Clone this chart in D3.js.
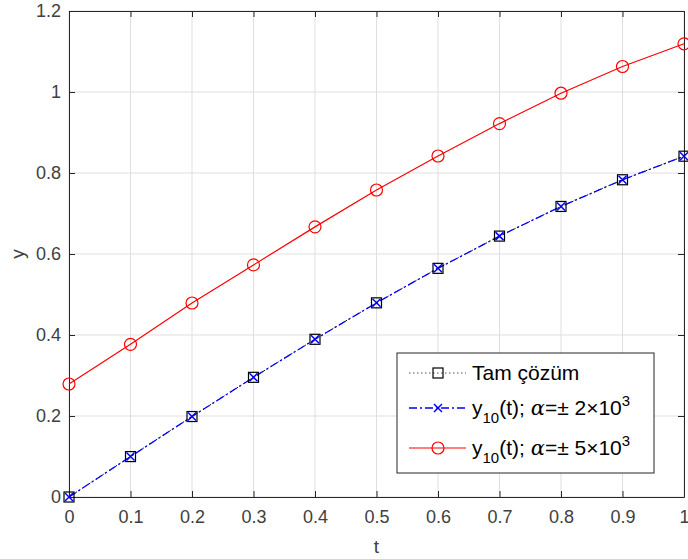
<!DOCTYPE html>
<html>
<head>
<meta charset="utf-8">
<script src="https://cdn.jsdelivr.net/npm/d3@7"></script>
<style>
  body { margin: 0; background: #fff; }
  svg { font-family: "Liberation Sans", Arial, sans-serif; }
</style>
</head>
<body>
<svg id="chart" width="688" height="559"></svg>
<script>
// data
const tValues = [0, 0.1, 0.2, 0.3, 0.4, 0.5, 0.6, 0.7, 0.8, 0.9, 1];
const exactValues = [0, 0.0998, 0.1987, 0.2955, 0.3894, 0.4794, 0.5646, 0.6442, 0.7174, 0.7833, 0.8415];
const y10Alpha2 = [0, 0.0998, 0.1987, 0.2955, 0.3894, 0.4794, 0.5646, 0.6442, 0.7174, 0.7833, 0.8415];
const y10Alpha5 = [0.279, 0.377, 0.479, 0.573, 0.667, 0.758, 0.842, 0.922, 0.997, 1.063, 1.119];
const xTicks = [0, 0.1, 0.2, 0.3, 0.4, 0.5, 0.6, 0.7, 0.8, 0.9, 1];
const yTicks = [0, 0.2, 0.4, 0.6, 0.8, 1, 1.2];

const svg = d3.select('#chart');
const margin = { top: 11, right: 4, bottom: 62, left: 69 },
      width = +svg.attr('width') - margin.left - margin.right,
      height = +svg.attr('height') - margin.top - margin.bottom;

const g = svg.append('g').attr('transform', `translate(${margin.left},${margin.top})`);

const x = d3.scaleLinear().domain([0, 1]).range([0, width]);
const y = d3.scaleLinear().domain([0, 1.2]).range([height, 0]);

const axisColor = '#262626';
const labelColor = '#404040';
const fmt = d => d3.format('')(+d.toFixed(1));

// Grid
g.append('g').selectAll('line').data(xTicks).enter().append('line')
    .attr('x1', d => x(d)).attr('x2', d => x(d)).attr('y1', 0).attr('y2', height)
    .attr('stroke', '#dfdfdf').attr('stroke-width', 1);
g.append('g').selectAll('line').data(yTicks).enter().append('line')
    .attr('y1', d => y(d)).attr('y2', d => y(d)).attr('x1', 0).attr('x2', width)
    .attr('stroke', '#dfdfdf').attr('stroke-width', 1);

// Axes (ticks inside, box all round)
function styleAxis(sel) {
    sel.select('.domain').attr('stroke', axisColor);
    sel.selectAll('.tick line').attr('stroke', axisColor);
    sel.selectAll('text').attr('fill', labelColor).style('font-size', '18px');
}
g.append('g').attr('transform', `translate(0,${height})`)
    .call(d3.axisBottom(x).tickValues(xTicks).tickFormat(fmt).tickSizeInner(-6).tickSizeOuter(0).tickPadding(13))
    .call(styleAxis);
g.append('g')
    .call(d3.axisLeft(y).tickValues(yTicks).tickFormat(fmt).tickSizeInner(-6).tickSizeOuter(0).tickPadding(8))
    .call(styleAxis);
g.append('g')
    .call(d3.axisTop(x).tickValues(xTicks).tickFormat('').tickSizeInner(-6).tickSizeOuter(0))
    .call(styleAxis);
g.append('g').attr('transform', `translate(${width},0)`)
    .call(d3.axisRight(y).tickValues(yTicks).tickFormat('').tickSizeInner(-6).tickSizeOuter(0))
    .call(styleAxis);

// Axis labels
svg.append('text').attr('x', margin.left + width / 2).attr('y', 553)
    .attr('text-anchor', 'middle').attr('fill', labelColor).style('font-size', '19px').text('t');
svg.append('text').attr('transform', `translate(24,${margin.top + height / 2}) rotate(-90)`)
    .attr('text-anchor', 'middle').attr('fill', labelColor).style('font-size', '19px').text('y');

// Lines
const series = [
    { key: 'exact', values: exactValues, color: '#000000', dash: '1.5,2.5', width: 1 },
    { key: 'a2', values: y10Alpha2, color: '#0000ff', dash: '8,3,2,3', width: 1.3 },
    { key: 'a5', values: y10Alpha5, color: '#ff0000', dash: null, width: 1.2 }
];
const line = d3.line().x((d, i) => x(tValues[i])).y(d => y(d));
series.forEach(s => {
    g.append('path').datum(s.values).attr('fill', 'none').attr('stroke', s.color)
        .attr('stroke-width', s.width).attr('stroke-dasharray', s.dash).attr('d', line);
});

// Markers
function drawMarker(sel, key) {
    if (key === 'exact') {
        sel.append('rect').attr('x', -5).attr('y', -5).attr('width', 10).attr('height', 10)
            .attr('fill', 'none').attr('stroke', '#000').attr('stroke-width', 1.2);
    } else if (key === 'a2') {
        sel.append('path').attr('d', 'M-4,-4L4,4M-4,4L4,-4')
            .attr('stroke', '#0000ff').attr('stroke-width', 1.5).attr('fill', 'none');
    } else {
        sel.append('circle').attr('r', 6).attr('fill', 'none')
            .attr('stroke', '#ff0000').attr('stroke-width', 1.2);
    }
}
series.forEach(s => {
    g.append('g').selectAll('g').data(s.values).enter().append('g')
        .attr('transform', (d, i) => `translate(${x(tValues[i])},${y(d)})`)
        .each(function () { drawMarker(d3.select(this), s.key); });
});

// Legend
const legend = svg.append('g').attr('transform', 'translate(397,353)');
legend.append('rect').attr('width', 257).attr('height', 120)
    .attr('fill', '#fff').attr('stroke', axisColor).attr('stroke-width', 1);

const legendRows = [
    { key: 'exact', y: 20, label: 'Tam çözüm', alpha: null },
    { key: 'a2', y: 55, label: null, alpha: '2' },
    { key: 'a5', y: 95, label: null, alpha: '5' }
];
legendRows.forEach(r => {
    const s = series.find(d => d.key === r.key);
    const row = legend.append('g').attr('transform', `translate(0,${r.y})`);
    row.append('line').attr('x1', 12).attr('x2', 69).attr('y1', 0).attr('y2', 0)
        .attr('stroke', r.key === 'exact' ? '#555' : s.color).attr('stroke-width', s.width)
        .attr('stroke-dasharray', s.dash);
    drawMarker(row.append('g').attr('transform', 'translate(41,0)'), r.key);
    const txt = row.append('text').attr('x', 75).attr('y', 7).attr('fill', '#000').style('font-size', '21px');
    if (r.label) {
        txt.text(r.label);
    } else {
        txt.append('tspan').text('y');
        txt.append('tspan').attr('dy', 8).style('font-size', '15px').text('10');
        txt.append('tspan').attr('dy', -8).text('(t); ');
        txt.append('tspan').style('font-family', '"DejaVu Serif", serif').style('font-style', 'italic').text('α');
        txt.append('tspan').text('=± ' + r.alpha + '×10');
        txt.append('tspan').attr('dy', -9).style('font-size', '15px').text('3');
    }
});
</script>
</body>
</html>
